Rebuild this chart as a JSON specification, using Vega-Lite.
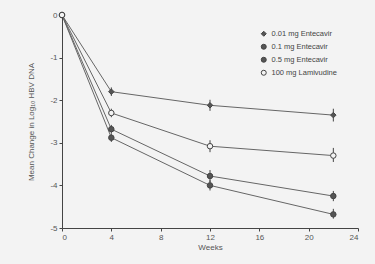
{
  "$schema": "https://vega.github.io/schema/vega-lite/v6.json",
  "autosize": "none",
  "width": 296,
  "height": 213,
  "padding": {"left": 62, "top": 15, "right": 17, "bottom": 36},
  "background": "#f3f3f3",
  "data": {
    "values": [
      {"g": "0.01 mg Entecavir", "w": 0, "v": 0, "lo": 0, "hi": 0},
      {"g": "0.01 mg Entecavir", "w": 4, "v": -1.8, "lo": -1.9, "hi": -1.7},
      {"g": "0.01 mg Entecavir", "w": 12, "v": -2.12, "lo": -2.25, "hi": -1.99},
      {"g": "0.01 mg Entecavir", "w": 22, "v": -2.35, "lo": -2.5, "hi": -2.2},
      {"g": "0.1  mg Entecavir", "w": 0, "v": 0, "lo": 0, "hi": 0},
      {"g": "0.1  mg Entecavir", "w": 4, "v": -2.68, "lo": -2.78, "hi": -2.58},
      {"g": "0.1  mg Entecavir", "w": 12, "v": -3.78, "lo": -3.92, "hi": -3.64},
      {"g": "0.1  mg Entecavir", "w": 22, "v": -4.25, "lo": -4.37, "hi": -4.13},
      {"g": "0.5  mg Entecavir", "w": 0, "v": 0, "lo": 0, "hi": 0},
      {"g": "0.5  mg Entecavir", "w": 4, "v": -2.88, "lo": -2.98, "hi": -2.78},
      {"g": "0.5  mg Entecavir", "w": 12, "v": -4.0, "lo": -4.12, "hi": -3.88},
      {"g": "0.5  mg Entecavir", "w": 22, "v": -4.68, "lo": -4.78, "hi": -4.55},
      {"g": "100 mg Lamivudine", "w": 0, "v": 0, "lo": 0, "hi": 0},
      {"g": "100 mg Lamivudine", "w": 4, "v": -2.3, "lo": -2.4, "hi": -2.2},
      {"g": "100 mg Lamivudine", "w": 12, "v": -3.08, "lo": -3.22, "hi": -2.94},
      {"g": "100 mg Lamivudine", "w": 22, "v": -3.3, "lo": -3.45, "hi": -3.12}
    ]
  },
  "encoding": {
    "x": {"field": "w", "type": "quantitative", "scale": {"domain": [0, 24], "nice": false}, "axis": {"values": [0, 4, 8, 12, 16, 20, 24], "title": "Weeks", "titlePadding": 2, "tickSize": 3}},
    "y": {"field": "v", "type": "quantitative", "scale": {"domain": [-5, 0], "nice": false}, "axis": {"values": [0, -1, -2, -3, -4, -5], "labelExpr": "datum.value < 0 ? '-' + abs(datum.value) : '0'", "title": "Mean Change in Log₁₀ HBV DNA", "titlePadding": 14, "tickSize": 3}}
  },
  "layer": [
    {
      "mark": {"type": "line", "color": "#666", "strokeWidth": 1},
      "encoding": {"detail": {"field": "g"}}
    },
    {
      "mark": {"type": "rule", "color": "#444", "strokeWidth": 1},
      "encoding": {"y": {"field": "lo", "type": "quantitative"}, "y2": {"field": "hi"}}
    },
    {
      "mark": {"type": "point", "size": 30, "strokeWidth": 1, "opacity": 1},
      "encoding": {
        "shape": {"field": "g", "type": "nominal", "title": null, "scale": {"range": ["diamond", "circle", "circle", "circle"]}},
        "fill": {"field": "g", "type": "nominal", "title": null, "scale": {"range": ["#555", "#555", "#555", "#f3f3f3"]}},
        "stroke": {"field": "g", "type": "nominal", "title": null, "scale": {"range": ["#444", "#444", "#444", "#444"]}}
      }
    }
  ],
  "config": {
    "view": {"stroke": null},
    "font": "Liberation Sans",
    "axis": {"labelColor": "#555", "titleColor": "#555", "domainColor": "#444", "tickColor": "#444", "labelFontSize": 8, "titleFontSize": 8, "titleFontWeight": "normal", "grid": false},
    "legend": {"orient": "none", "legendX": 198, "legendY": 15, "labelFontSize": 7.5, "labelColor": "#444", "symbolSize": 25, "rowPadding": 3, "labelOffset": 4, "symbolStrokeWidth": 1}
  }
}
